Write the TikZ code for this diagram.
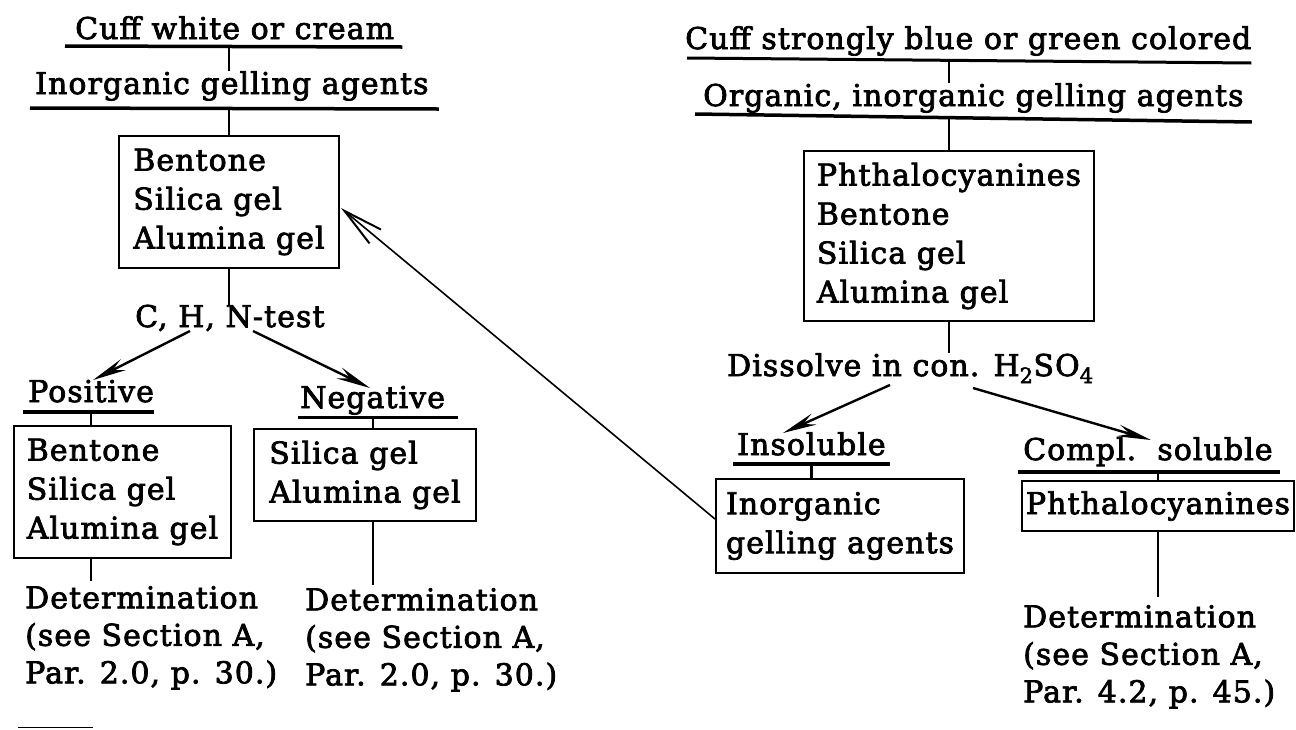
\documentclass[tikz,border=0pt]{standalone}
\usepackage{fontspec}
\setmainfont{DejaVu Serif}[LetterSpace=3.5, FakeBold=2.5]
\usetikzlibrary{arrows.meta,calc}
\newcommand{\chartfont}{\fontsize{30}{39}\selectfont}
\newcommand{\notefont}{\fontsize{30}{37.5}\selectfont}
\begin{document}
\begin{tikzpicture}[x=1pt,y=-1pt,
  txt/.style={inner sep=0pt, anchor=base west, font=\chartfont},
  multi/.style={inner sep=0pt, anchor=north west, align=left, font=\notefont},
  boxed/.style={draw, line width=2pt, anchor=north west, align=left,
                inner sep=0pt, font=\chartfont},
  uline/.style={line width=3.5pt},
  link/.style={line width=2.2pt},
  branch/.style={line width=2.4pt, -{Stealth[length=34pt,width=12pt,inset=12pt]}},
  back/.style={line width=1.6pt, -{Straight Barb[length=40pt,width=18pt,line width=2pt]}},
]
\useasboundingbox (0,0) rectangle (1296,729);
\fill[white] (0,0) rectangle (1296,729);

% ---------------- left branch: white or cream cuff ----------------
\node[txt] (h1) at (75,39) {Cuff white or cream};
\node[txt] (h2) at (35,94) {Inorganic gelling agents};
\node[boxed, minimum width=220pt, minimum height=132pt] (b1) at (118,135)
  {Bentone\\Silica gel\\Alumina gel};
\node[txt] (chn) at (135,327) {C, H, N-test};
\node[txt] (pos) at (28,402) {Positive};
\node[txt] (neg) at (300,408) {Negative};
\node[boxed, minimum width=217pt, minimum height=132pt] (pbox) at (13,425)
  {Bentone\\Silica gel\\Alumina gel};
\node[boxed, minimum width=222pt, minimum height=92pt] (nbox) at (253,428)
  {Silica gel\\Alumina gel};
\node[multi] (detL) at (25,586) {Determination\\(see Section A,\\Par. 2.0, p. 30.)};
\node[multi] (detM) at (305,588) {Determination\\(see Section A,\\Par. 2.0, p. 30.)};

% underlines
\draw[uline] ($(h1.base west)+(-10,7)$) coordinate (h1a) -- ($(h1.base east)+(8,8)$);
\draw[uline] ($(h2.base west)+(-5,14)$) coordinate (h2a) -- ($(h2.base east)+(10,15)$);
\draw[uline] ($(pos.base west)+(-5,10)$) coordinate (posa) -- ($(pos.base east)+(0,10)$);
\draw[uline, line width=3pt] ($(neg.base west)+(-2,9)$) coordinate (nega) -- ($(neg.base east)+(13,9)$);

% stems
\draw[link] (h1a -| b1.north) -- (h2.north -| b1.north);
\draw[link] (h2a -| b1.north) -- (b1.north);
\draw[link] (b1.south) -- (b1.south |- chn.north);
\draw[link] (posa -| pos.south) -- (pbox.north -| pos.south);
\draw[link] (pbox.south -| pos.south) -- ($(detL.north -| pos.south)+(0,-5)$);
\draw[link] (nega -| neg.south) -- (nbox.north -| neg.south);
\draw[link] (nbox.south -| neg.south) -- ($(detM.north -| neg.south)+(0,-3)$);

% test outcomes
\draw[branch] ($(chn.base west)+(55,4)$) -- ($(pos.base west)+(65,-22)$);
\draw[branch] ($(chn.base west)+(118,4)$) -- ($(neg.base west)+(70,-20)$);

% ---------------- right branch: blue or green cuff ----------------
\node[txt] (h3) at (685,49) {Cuff strongly blue or green colored};
\node[txt] (h4) at (703,106) {Organic, inorganic gelling agents};
\node[boxed, minimum width=290pt, minimum height=170pt] (rbox) at (803,150)
  {Phthalocyanines\\Bentone\\Silica gel\\Alumina gel};
\node[txt] (dis) at (727,376) {Dissolve in con. H\textsubscript{2}SO\textsubscript{4}};
\node[txt] (ins) at (737,455) {Insoluble};
\node[txt] (comp) at (1023,460) {Compl.\ \ soluble};
\node[boxed, minimum width=248pt, minimum height=94pt] (ibox) at (715,478)
  {Inorganic\\gelling agents};
\node[boxed, align=center, minimum width=272pt, minimum height=50pt] (cbox) at (1021,480)
  {Phthalocyanines};
\node[multi] (detR) at (1023,605) {Determination\\(see Section A,\\Par. 4.2, p. 45.)};

% underlines
\draw[uline, line width=3pt] ($(h3.base west)+(2,9)$) coordinate (h3a) -- ($(h3.base east)+(0,14)$);
\draw[uline] ($(h4.base west)+(-8,8)$) coordinate (h4a) -- ($(h4.base east)+(8,16)$);
\draw[uline] ($(ins.base west)+(-4,9)$) coordinate (insa) -- ($(ins.base east)+(4,9)$);
\draw[uline] ($(comp.base west)+(-5,12)$) coordinate (compa) -- ($(comp.base east)+(7,12)$);

% stems
\draw[link] ($(h3a -| rbox.north)+(0,2)$) -- (h4.north -| rbox.north);
\draw[link] ($(h4a -| rbox.north)+(0,4)$) -- (rbox.north);
\draw[link] (rbox.south) -- (rbox.south |- dis.north);
\draw[link] (insa -| ins.south) -- (ibox.north -| ins.south);
\draw[link] (compa -| cbox.north) -- (cbox.north);
\draw[link] (cbox.south) -- ($(cbox.south |- detR.north)+(0,-8)$);

% solubility outcomes
\draw[branch] ($(dis.base west)+(163,9)$) -- ($(ins.base west)+(46,-22)$);
\draw[branch] ($(dis.base west)+(246,12)$) -- ($(comp.base west)+(128,-20)$);

% insoluble residue goes back to the inorganic scheme
\draw[back] ($(ibox.west)+(0,-7)$) -- ($(b1.east)+(1,6)$);

% footnote rule
\draw[line width=1.2pt] (18,727.5) -- (93,727.5);
\end{tikzpicture}
\end{document}
